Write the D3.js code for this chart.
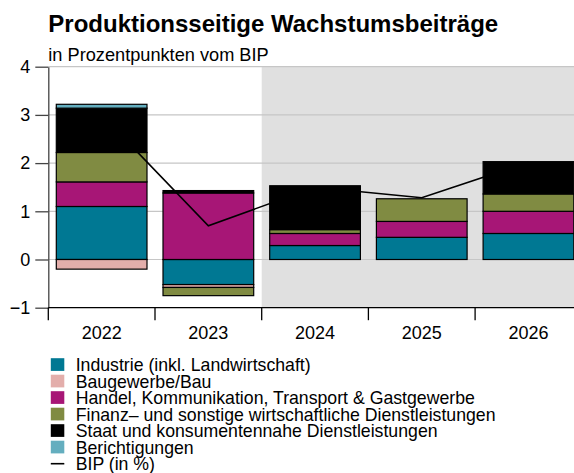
<!DOCTYPE html>
<html>
<head>
<meta charset="utf-8">
<script src="https://cdn.jsdelivr.net/npm/d3@7"></script>
<style>
  body { margin: 0; background: #fff; }
  text { font-family: "Liberation Sans", Arial, sans-serif; fill: #000; }
</style>
</head>
<body>
<div id="chart"></div>
<script>
var width = 574;
var height = 473;

// data
var years = ["2022", "2023", "2024", "2025", "2026"];
var seriesNames = [
    "Industrie (inkl. Landwirtschaft)",
    "Baugewerbe/Bau",
    "Handel, Kommunikation, Transport & Gastgewerbe",
    "Finanz\u2013 und sonstige wirtschaftliche Dienstleistungen",
    "Staat und konsumentennahe Dienstleistungen",
    "Berichtigungen"
];
var seriesColors = ["#007893", "#e3aeab", "#a71676", "#808b42", "#000000", "#64aebf"];
var industrie      = [1.10,  -0.52, 0.29, 0.46, 0.54];
var bau            = [-0.20, -0.06, 0.00, 0.00, 0.00];
var handel         = [0.51,   1.38, 0.25, 0.33, 0.46];
var finanz         = [0.61,  -0.17, 0.08, 0.47, 0.36];
var staat          = [0.92,   0.05, 0.91, 0.00, 0.67];
var berichtigungen = [0.08,   0.00, 0.00, 0.00, 0.00];
var bip            = [3.00,   0.70, 1.50, 1.28, 2.02];
var yTicks = [-1, 0, 1, 2, 3, 4];
var forecastFrom = "2024";
var lineLabel = "BIP (in %)";

var allSeries = [industrie, bau, handel, finanz, staat, berichtigungen];

var rows = years.map(function (yr, i) {
    var row = { year: yr };
    seriesNames.forEach(function (name, s) { row[name] = allSeries[s][i]; });
    return row;
});

var svg = d3.select("#chart").append("svg")
    .attr("width", width)
    .attr("height", height);

var left = 48.3;
var step = 106.7;

var x = d3.scaleBand()
    .domain(years)
    .range([left, left + step * years.length])
    .paddingInner(0.15)
    .paddingOuter(0.075);

var xAxisScale = d3.scaleBand()
    .domain(years)
    .range([left, left + step * years.length]);

var y = d3.scaleLinear()
    .domain([-1, 4])
    .range([307.7, 66.7]);

// title
svg.append("text")
    .attr("x", left).attr("y", 31.5)
    .style("font-size", "24px").style("font-weight", "bold")
    .text("Produktionsseitige Wachstumsbeiträge");
svg.append("text")
    .attr("x", left).attr("y", 60.5)
    .style("font-size", "18.2px")
    .text("in Prozentpunkten vom BIP");

// forecast background
svg.append("rect")
    .attr("x", xAxisScale(forecastFrom))
    .attr("y", y(4))
    .attr("width", width - xAxisScale(forecastFrom))
    .attr("height", y(-1) - y(4))
    .attr("fill", "#e0e0e0");

// grid
svg.append("g").selectAll("line")
    .data(yTicks.filter(function (t) { return t > -1; }))
    .enter().append("line")
    .attr("x1", left).attr("x2", width)
    .attr("y1", function (d) { return y(d); })
    .attr("y2", function (d) { return y(d); })
    .attr("stroke", "#c6c6c6").attr("stroke-width", 1.2);

// stacked bars
var stack = d3.stack()
    .keys(seriesNames)
    .offset(d3.stackOffsetDiverging);
var stacked = stack(rows);

svg.append("g").selectAll("g")
    .data(stacked)
    .enter().append("g")
    .attr("fill", function (d, i) { return seriesColors[i]; })
    .selectAll("rect")
    .data(function (d) { return d; })
    .enter().append("rect")
    .attr("x", function (d) { return x(d.data.year); })
    .attr("width", x.bandwidth())
    .attr("y", function (d) { return y(Math.max(d[0], d[1])); })
    .attr("height", function (d) { return Math.abs(y(d[0]) - y(d[1])); })
    .attr("stroke", "#000").attr("stroke-width", 1.2);

// BIP line
var line = d3.line()
    .x(function (d, i) { return x(years[i]) + x.bandwidth() / 2; })
    .y(function (d) { return y(d); });
svg.append("path")
    .datum(bip)
    .attr("d", line)
    .attr("fill", "none")
    .attr("stroke", "#000")
    .attr("stroke-width", 1.6);

// y axis
var yAxis = svg.append("g")
    .attr("transform", "translate(" + left + ",0)")
    .call(d3.axisLeft(y).tickValues(yTicks).tickSize(13).tickSizeOuter(0).tickPadding(5)
        .tickFormat(function (d) { return d < 0 ? "\u2212" + Math.abs(d) : d; }));
yAxis.select(".domain").attr("stroke", "#444").attr("stroke-width", 1.3);
yAxis.selectAll(".tick line").attr("stroke", "#444").attr("stroke-width", 1.3);
yAxis.selectAll("text").style("font-size", "18px").attr("font-family", null);

// x axis: ticks at band borders, labels at centres
var xg = svg.append("g");
xg.append("line")
    .attr("x1", left).attr("x2", width)
    .attr("y1", y(-1)).attr("y2", y(-1))
    .attr("stroke", "#000").attr("stroke-width", 1.2);
xg.selectAll("line.tk")
    .data(years)
    .enter().append("line").attr("class", "tk")
    .attr("x1", function (d) { return xAxisScale(d); })
    .attr("x2", function (d) { return xAxisScale(d); })
    .attr("y1", y(-1)).attr("y2", y(-1) + 12.5)
    .attr("stroke", "#000").attr("stroke-width", 1.3);
xg.selectAll("text")
    .data(years)
    .enter().append("text")
    .attr("x", function (d) { return xAxisScale(d) + xAxisScale.bandwidth() / 2; })
    .attr("y", 338.5)
    .attr("text-anchor", "middle")
    .style("font-size", "18px")
    .text(function (d) { return d; });

// legend
var legend = svg.append("g").attr("transform", "translate(50.8,358.2)");
var rowH = 16.5;
seriesNames.forEach(function (name, i) {
    legend.append("rect")
        .attr("x", 0).attr("y", i * rowH)
        .attr("width", 13.5).attr("height", 12.7)
        .attr("fill", seriesColors[i]);
    legend.append("text")
        .attr("x", 24.9).attr("y", i * rowH + 12.9)
        .style("font-size", "17.7px")
        .text(name);
});
legend.append("line")
    .attr("x1", 0).attr("x2", 13.5)
    .attr("y1", 6 * rowH + 6.5).attr("y2", 6 * rowH + 6.5)
    .attr("stroke", "#000").attr("stroke-width", 1.6);
legend.append("text")
    .attr("x", 24.9).attr("y", 6 * rowH + 12.9)
    .style("font-size", "17.7px")
    .text(lineLabel);
</script>
</body>
</html>
